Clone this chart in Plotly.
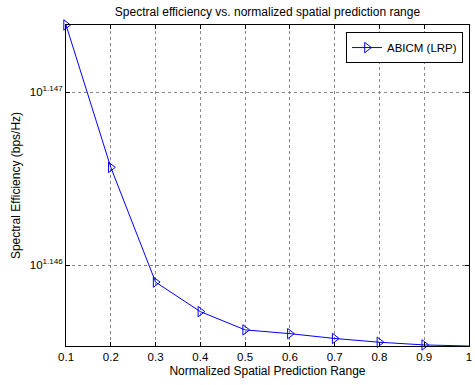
import plotly.graph_objects as go
import math

x_range = [0.1, 0.2, 0.3, 0.4, 0.5, 0.6, 0.7, 0.8, 0.9, 1.0]
spectral_eff = [14.0407, 14.0141, 13.9927, 13.9872, 13.9838, 13.9831, 13.9822, 13.9815, 13.9810, 13.9808]
series_name = "ABICM (LRP)"
x_ticks = [0.1, 0.2, 0.3, 0.4, 0.5, 0.6, 0.7, 0.8, 0.9, 1]
x_ticklabels = ["0.1", "0.2", "0.3", "0.4", "0.5", "0.6", "0.7", "0.8", "0.9", "1"]
y_tick_exps = [1.146, 1.147]
y_ticklabels = ["10<sup>1.146</sup>", "10<sup>1.147</sup>"]

font = "Liberation Sans, Arial, sans-serif"

fig = go.Figure()
fig.add_trace(go.Scatter(
    x=x_range, y=spectral_eff, mode="lines+markers", name=series_name,
    line=dict(color="#0000ff", width=1),
    marker=dict(symbol="triangle-right-open", size=9, color="#0000ff", line=dict(width=1)),
    cliponaxis=False,
))

ymin = math.log10(min(spectral_eff))
ymax = math.log10(max(spectral_eff))

fig.update_layout(
    width=475, height=385,
    margin=dict(l=66, r=3, t=25, b=39),
    paper_bgcolor="white", plot_bgcolor="white",
    font=dict(family=font, size=11.5, color="black"),
    title=dict(text="Spectral efficiency vs. normalized spatial prediction range",
               x=0.5, xref="paper", y=1 - 12/385, yanchor="middle",
               font=dict(size=12)),
    showlegend=True,
    legend=dict(x=0.985, y=0.978, xanchor="right", yanchor="top",
                bordercolor="black", borderwidth=1, bgcolor="white",
                font=dict(size=11.5), itemwidth=30),
    xaxis=dict(range=[0.0999, 1.0001], tickvals=x_ticks, ticktext=x_ticklabels,
               ticklabeloverflow="allow",
               showgrid=True, gridcolor="#888", griddash="dot", gridwidth=1,
               showline=True, linecolor="black", linewidth=1, mirror="ticks",
               ticks="inside", ticklen=4, tickcolor="black", zeroline=False,
               title=dict(text="Normalized Spatial Prediction Range", standoff=4,
                          font=dict(size=12))),
    yaxis=dict(type="log", range=[ymin, ymax],
               tickvals=[10**e for e in y_tick_exps], ticktext=y_ticklabels,
               showgrid=True, gridcolor="#888", griddash="dot", gridwidth=1,
               showline=True, linecolor="black", linewidth=1, mirror="ticks",
               ticks="inside", ticklen=4, tickcolor="black", zeroline=False,
               title=dict(text="Spectral Efficiency (bps/Hz)", standoff=6,
                          font=dict(size=12))),
)

fig.write_html("out.html")
